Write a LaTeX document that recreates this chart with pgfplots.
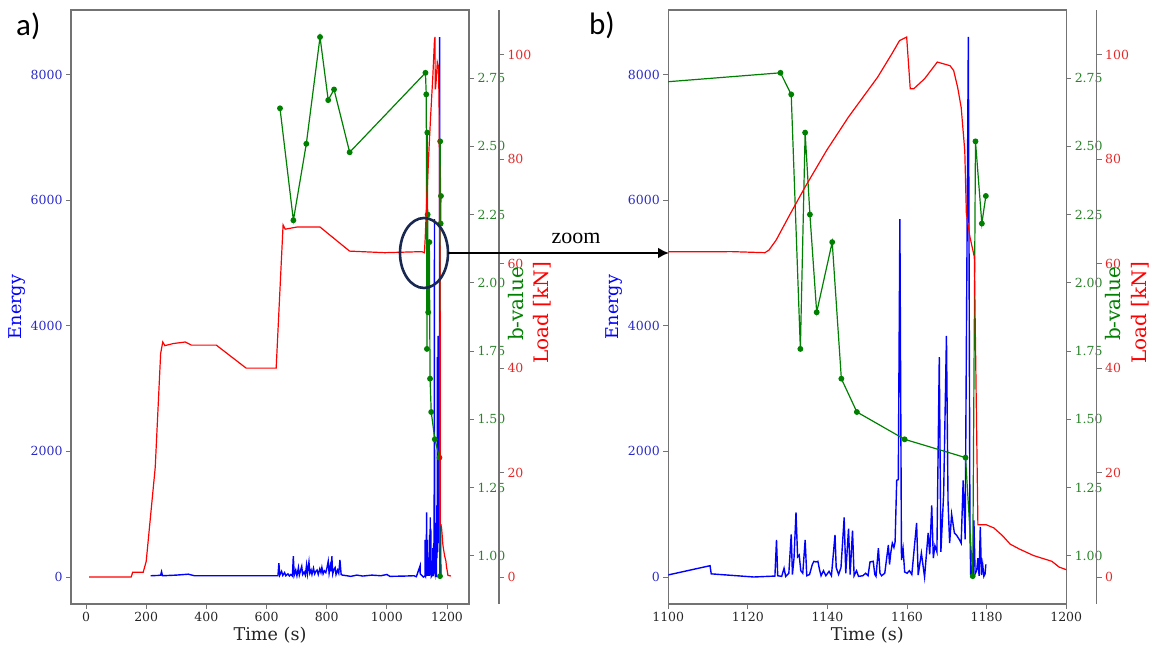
\documentclass[border=0pt]{standalone}
\usepackage{fontspec}
\setmainfont{DejaVu Serif}
\newfontfamily\panelfont{Carlito}
\newfontfamily\zoomfont{Liberation Serif}
\usepackage{pgfplots}
\usepackage{pgfplotstable}
\pgfplotsset{compat=1.18}
\usetikzlibrary{arrows.meta}

\definecolor{eblue}{RGB}{0,0,255}
\definecolor{bgreen}{RGB}{0,128,0}
\definecolor{lred}{RGB}{255,0,0}
\definecolor{eblab}{RGB}{40,40,200}
\definecolor{bglab}{RGB}{40,130,40}
\definecolor{lrlab}{RGB}{225,40,40}
\definecolor{framecol}{RGB}{115,115,115}
\definecolor{navyc}{RGB}{25,40,80}
\definecolor{xlab}{RGB}{35,35,35}

\pgfplotstableread{
t E
215 20
240 25
248 30
251 85
254 20
300 30
340 45
360 20
450 20
550 20
638 20
641 220
644 30
650 90
654 25
660 70
664 20
671 50
676 15
681 40
686 15
689 330
692 30
697 110
701 20
706 150
709 30
714 120
717 170
720 40
725 80
729 30
733 190
736 50
741 240
744 60
748 110
751 40
756 140
760 50
764 90
768 110
772 40
777 130
781 70
784 150
788 50
792 100
797 70
801 150
805 250
808 60
812 180
815 90
817 330
820 50
824 120
828 150
831 40
836 110
840 60
844 270
848 40
852 30
860 25
880 10
900 30
920 15
950 30
980 20
1000 40
1010 10
1060 15
1090 20
1098 5
1110.5 180
1110.8 50
1121.5 0
1126.8 15
1127.2 590
1127.5 20
1128.5 10
1129.1 140
1129.5 10
1130.3 60
1130.9 680
1131.2 40
1131.6 300
1132.1 1030
1132.5 320
1132.9 350
1133.3 100
1133.8 60
1134.4 590
1134.8 20
1135.5 40
1136.2 200
1136.6 250
1137.1 240
1137.6 250
1138.0 120
1138.4 20
1139.0 100
1139.6 20
1140.4 90
1141.0 20
1141.9 670
1142.2 150
1142.8 40
1143.4 150
1144.2 950
1144.6 60
1145.3 770
1145.7 40
1146.3 740
1146.7 20
1147.3 100
1147.8 10
1148.9 20
1149.6 60
1150.2 20
1150.7 240
1151.5 250
1151.9 40
1152.2 10
1152.8 460
1153.2 60
1153.6 20
1154.4 60
1155.3 510
1155.6 200
1155.9 380
1156.3 540
1156.7 470
1157.0 560
1157.4 1540
1157.8 1550
1158.2 5700
1158.6 270
1159.0 450
1159.4 80
1160.0 60
1160.6 100
1161.2 40
1162.4 860
1162.8 30
1163.6 380
1164.4 0
1165.3 700
1165.7 360
1166.2 1140
1166.6 300
1167.0 500
1167.5 400
1168.1 3500
1168.5 400
1169.2 1330
1169.9 3840
1170.3 1200
1170.7 540
1171.2 1000
1171.9 700
1172.5 660
1173.2 590
1173.6 540
1174.1 1540
1174.6 600
1175.4 8600
1175.8 800
1176.0 0
1176.3 150
1176.6 30
1176.8 900
1177.1 50
1177.5 100
1177.8 300
1178.1 20
1178.4 800
1178.7 30
1179.0 200
1179.3 10
1179.6 50
1179.8 200
}\energydata

\pgfplotstableread{
t b
644.7 2.639
689.2 2.229
732.2 2.509
777.8 2.900
805.0 2.669
824.4 2.708
876.3 2.478
1128.2 2.769
1130.9 2.690
1133.2 1.758
1134.4 2.550
1135.6 2.250
1137.3 1.892
1141.2 2.149
1143.5 1.649
1147.4 1.527
1159.4 1.427
1174.7 1.360
1176.5 0.926
1177.2 2.518
1178.8 2.217
1179.8 2.318
}\bdata

\pgfplotstableread{
t L
10 0
150 0
155 0.9
190 0.9
200 3
215 12
230 21
248 42.8
255 45
262 44.3
290 44.7
330 45
350 44.4
433 44.4
532 40
632 40
655 67.4
662 66.6
700 67
778 67
876 62.4
993 62.1
1116 62.3
1124.3 62.1
1125.3 62.6
1127.1 64.5
1130.7 69.6
1134.4 74.7
1139.8 81.7
1145.3 88.1
1152.6 95.7
1156.2 100.2
1158.1 102.7
1159.9 103.4
1160.8 93.5
1161.7 93.5
1164.4 95.4
1167.6 98.6
1169.0 98.3
1170.8 97.9
1171.7 97.0
1172.7 93.8
1173.6 89.9
1174.5 81.6
1174.9 69.6
1175.8 65.1
1176.9 61.3
1177.8 10.0
1179.9 10.0
1181.8 9.4
1184.0 7.9
1185.9 6.3
1188.1 5.4
1191.8 4.1
1196.4 3.0
1198.2 1.9
1200 1.4
1203 0.3
1213 0.2
}\ldata

\pgfplotsset{
  base/.style={
    scale only axis, width=398pt, height=594pt, anchor=south west,
    tick align=outside, major tick length=5pt,
    major tick style={framecol, line width=0.9pt},
    axis line style={framecol, line width=1.2pt, -},
    ticklabel style={font=\fontsize{12.5}{14}\selectfont},
    /pgf/number format/assume math mode=true,
    /pgf/number format/1000 sep={},
  },
  eaxis/.style={base, ymin=-430, ymax=9030,
    ytick={0,2000,4000,6000,8000}, xtick pos=left, ytick pos=left,
    yticklabel style={text=eblab}, xticklabel style={text=xlab},
    ylabel={Energy},
    ylabel style={at={(axis description cs:-0.136,0.5)}, anchor=center,
      font=\fontsize{17.6}{20}\selectfont, text=eblue},
    xlabel={Time (s)},
    xlabel style={at={(axis description cs:0.5,-0.052)}, anchor=center,
      font=\fontsize{17.6}{20}\selectfont, text=xlab},
  },
  baxis/.style={base, ymin=0.824, ymax=2.999, hide x axis,
    axis y line*=right, ytick pos=right, yticklabel pos=right,
    ytick={1,1.25,1.5,1.75,2,2.25,2.5,2.75},
    yticklabel style={text=bglab, /pgf/number format/.cd, fixed, fixed zerofill, precision=2},
    ylabel={b-value},
    ylabel style={at={(axis description cs:1.118,0.505)}, anchor=center,
      font=\fontsize{20}{24}\selectfont, text=bgreen},
  },
  laxis/.style={base, ymin=-5.17, ymax=108.57, hide axis},
  lspine/.style={base, xmin=0, xmax=1, ymin=-5.17, ymax=108.57, hide x axis,
    axis y line*=right, ytick pos=right, yticklabel pos=right,
    ytick={0,20,40,60,80,100},
    yticklabel style={text=lrlab},
    ylabel={Load [kN]},
    ylabel style={at={(axis description cs:1.109,0.49)}, anchor=center,
      font=\fontsize{20}{24}\selectfont, text=lred},
  },
}

\begin{document}
\begin{tikzpicture}
\useasboundingbox (0,0) rectangle (1149pt,646pt);

% ---------- panel a ----------
\begin{axis}[eaxis, at={(71pt,42pt)}, xmin=-50, xmax=1273, xtick={0,200,400,600,800,1000,1200}]
\addplot[eblue, line width=1.4pt] table[x=t,y=E]{\energydata};
\end{axis}
\begin{axis}[baxis, at={(71pt,42pt)}, xmin=-50, xmax=1273]
\addplot[bgreen, line width=1.2pt, mark=*, mark size=2.3pt, mark options={fill=bgreen}] table[x=t,y=b]{\bdata};
\end{axis}
\begin{axis}[laxis, at={(71pt,42pt)}, xmin=-50, xmax=1273]
\addplot[lred, line width=1.2pt] table[x=t,y=L]{\ldata};
\end{axis}
\begin{axis}[lspine, at={(101pt,42pt)}]
\end{axis}

% ---------- panel b ----------
\begin{axis}[eaxis, at={(668.2pt,42pt)}, xmin=1100, xmax=1200, xtick={1100,1120,1140,1160,1180,1200}]
\addplot[eblue, line width=1.4pt] table[x=t,y=E]{\energydata};
\end{axis}
\begin{axis}[baxis, at={(668.2pt,42pt)}, xmin=1100, xmax=1200]
\addplot[bgreen, line width=1.2pt, mark=*, mark size=2.3pt, mark options={fill=bgreen}] table[x=t,y=b]{\bdata};
\end{axis}
\begin{axis}[laxis, at={(668.2pt,42pt)}, xmin=1100, xmax=1200]
\addplot[lred, line width=1.2pt] table[x=t,y=L]{\ldata};
\end{axis}
\begin{axis}[lspine, at={(698.7pt,42pt)}]
\end{axis}

% ---------- annotations ----------
\draw[navyc, line width=2.6pt] (424pt,393pt) ellipse [x radius=24pt, y radius=35pt];
\draw[black, line width=2.6pt, -{Latex[length=11pt,width=11pt]}] (448pt,393pt) -- (669pt,393pt);
\node[anchor=base, font=\zoomfont\fontsize{22}{26}\selectfont] at (576pt,402.5pt) {zoom};
\node[anchor=base west, inner sep=0pt, font=\panelfont\fontsize{31}{36}\selectfont] at (16pt,610.5pt) {a)};
\node[anchor=base west, inner sep=0pt, font=\panelfont\fontsize{31}{36}\selectfont] at (589pt,611pt) {b)};
\end{tikzpicture}
\end{document}
